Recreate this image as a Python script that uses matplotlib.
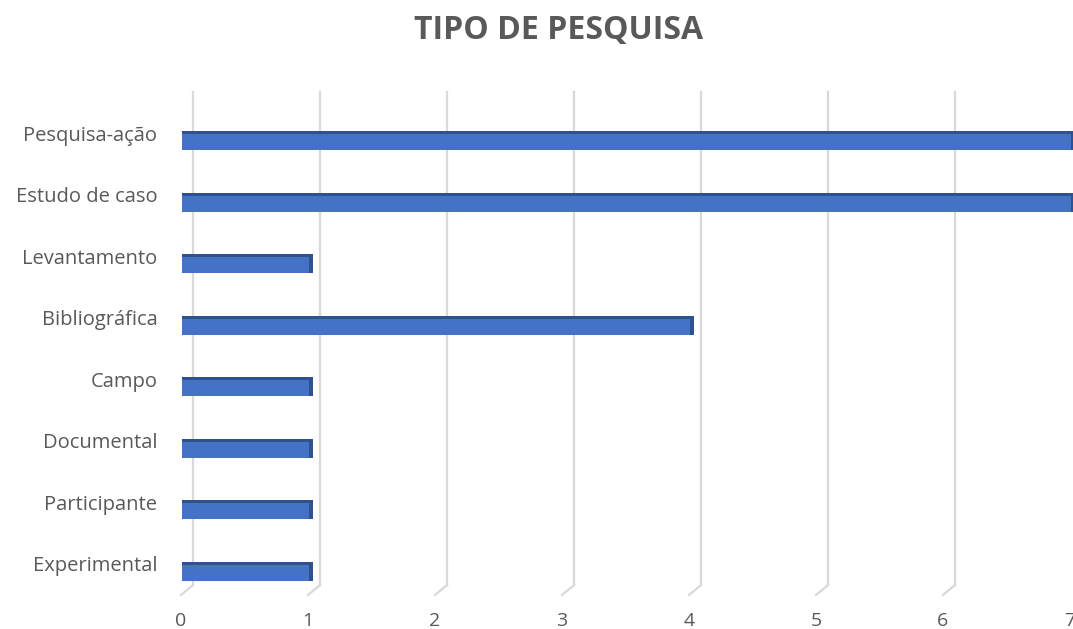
import matplotlib.pyplot as plt
from matplotlib.transforms import offset_copy

plt.rcParams['font.family'] = ['Open Sans', 'DejaVu Sans']

categories = ['Experimental', 'Participante', 'Documental', 'Campo',
              'Bibliográfica', 'Levantamento', 'Estudo de caso', 'Pesquisa-ação']
values = [1, 1, 1, 1, 4, 1, 7, 7]
xticks = [0, 1, 2, 3, 4, 5, 6, 7]

TEXT = '#595959'
GRID = '#D9D9D9'
BLUE = '#4472C4'
BLUE_DARK = '#2F528F'

W, H = 1073, 629
fig = plt.figure(figsize=(W / 100, H / 100), dpi=100)
# axes box in pixels: front floor at y=595, top at 80, x from 181 to 1070
left, right, bottom, top = 181, 1070, 595, 80
ax = fig.add_axes([left / W, (H - bottom) / H, (right - left) / W, (bottom - top) / H])
step = 61.57          # pixels per category
xunit = (right - left) / 7  # pixels per value
ax.set_xlim(0, 7)
ax.set_ylim(-22 / step, (573 - top) / step)
for s in ax.spines.values():
    s.set_visible(False)

# back-wall gridlines with a short floor diagonal (Excel 3-D look)
back = offset_copy(ax.transData, fig, x=12, y=10, units='dots')
y_floor = -22 / step
y_top = (573 - 92) / step
for v in xticks[:-1]:
    ax.plot([v, v], [y_floor, y_top - 10 / step], color=GRID, lw=1.6,
            transform=back, clip_on=False, zorder=0)
    x0, y0 = back.transform((v, y_floor))
    x1, y1 = ax.transData.transform((v, y_floor))
    ax.plot([x0, x1], [y0, y1], color=GRID, lw=1.6, transform=None,
            clip_on=False, zorder=0)

pos = list(range(len(categories)))
bar_h = 16 / step
front = offset_copy(ax.transData, fig, x=1, y=0, units='dots')
# darker top and right faces, then the front face
ax.barh([p + 1.5 / step for p in pos], [v + 4 / xunit for v in values],
        height=bar_h + 3 / step, color=BLUE_DARK, transform=front,
        clip_on=False, zorder=2)
ax.barh(pos, values, height=bar_h, color=BLUE, transform=front,
        clip_on=False, zorder=3)

ax.set_yticks(pos)
ax.set_yticklabels(categories, color=TEXT, fontsize=14.5)
ax.tick_params(axis='y', length=0, pad=17)
for lbl in ax.get_yticklabels():
    lbl.set_transform(offset_copy(lbl.get_transform(), fig, x=0, y=9, units='dots'))

ax.set_xticks(xticks)
ax.set_xticklabels([str(t) for t in xticks], color=TEXT, fontsize=14)
ax.tick_params(axis='x', length=0, pad=12)

fig.text(559 / W, 1 - 31 / H, 'TIPO DE PESQUISA', ha='center', va='center',
         fontsize=23, fontweight='bold', color=TEXT)

fig.savefig('out.png', dpi=100)
